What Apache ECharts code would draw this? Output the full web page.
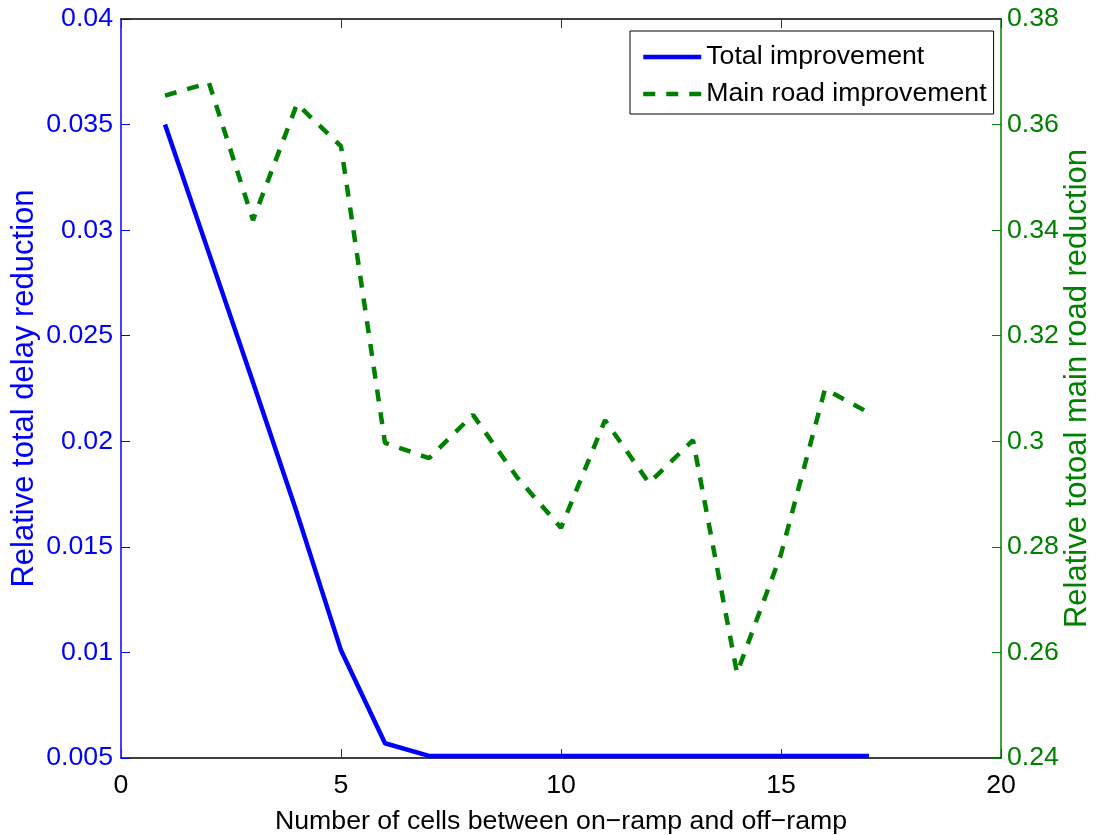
<!DOCTYPE html>
<html>
<head>
<meta charset="utf-8">
<script src="https://cdn.jsdelivr.net/npm/echarts@6/dist/echarts.min.js"></script>
<style>
  html, body { margin: 0; padding: 0; background: #fff; overflow: hidden; }
  #chart { width: 1097px; height: 835px; }
</style>
</head>
<body>
<div id="chart"></div>
<script>
// Number of cells between on-ramp and off-ramp
const cells = [1, 2, 3, 4, 5, 6, 7, 8, 9, 10, 11, 12, 13, 14, 15, 16, 17];
// Relative total delay reduction (left axis)
const totalImprovement = [0.0350, 0.0289, 0.0228, 0.0166, 0.0101, 0.0057, 0.0051, 0.0051, 0.0051,
  0.0051, 0.0051, 0.0051, 0.0051, 0.0051, 0.0051, 0.0051, 0.0051];
// Relative total main road reduction (right axis)
const mainRoadImprovement = [0.3655, 0.3679, 0.3419, 0.3639, 0.3559, 0.2997, 0.2968, 0.3050, 0.2932,
  0.2836, 0.3040, 0.2921, 0.3002, 0.2561, 0.2786, 0.3099, 0.3054];

const seriesNames = ['Total improvement', 'Main road improvement'];
const xTitle = 'Number of cells between on\u2212ramp and off\u2212ramp';
const leftTitle = 'Relative total delay reduction';
const rightTitle = 'Relative totoal main road reduction';

const BLUE = '#0000ff';
const GREEN = '#008000';
const FONT = '"Liberation Sans", Arial, sans-serif';
const FS = 26.7;      // tick labels, legend, x title
const FS_Y = 31;      // rotated axis titles
const LINE_W = 4.5;

const chart = echarts.init(document.getElementById('chart'), null, { renderer: 'canvas' });

const tickStyle = (color) => ({ show: true, inside: true, length: 9, lineStyle: { color: color, width: 1 } });

chart.setOption({
  backgroundColor: '#ffffff',
  animation: false,
  textStyle: { fontFamily: FONT },
  grid: { left: 121, right: 96, top: 19, bottom: 77, containLabel: false, outerBoundsMode: 'none' },
  legend: {
    left: 630,
    top: 31,
    orient: 'vertical',
    itemWidth: 58,
    itemHeight: 14,
    itemGap: 9,
    padding: [12, 7, 6, 11],
    borderColor: '#000',
    borderWidth: 1,
    backgroundColor: '#fff',
    itemStyle: { opacity: 0 },
    lineStyle: { width: LINE_W },
    textStyle: { fontFamily: FONT, fontSize: FS, color: '#000', lineHeight: 28 },
    data: seriesNames
  },
  xAxis: [
    {
      type: 'value',
      min: 0, max: 20, interval: 5,
      position: 'bottom',
      name: xTitle,
      nameLocation: 'middle',
      nameGap: 50,
      nameMoveOverlap: false,
      nameTextStyle: { fontFamily: FONT, fontSize: FS, color: '#000' },
      axisLine: { show: true, onZero: false, lineStyle: { color: '#000', width: 1.5 } },
      axisTick: tickStyle('#333'),
      axisLabel: { fontFamily: FONT, fontSize: FS, color: '#000', margin: 14 },
      splitLine: { show: false }
    },
    {
      type: 'value',
      min: 0, max: 20, interval: 5,
      position: 'top',
      axisLine: { show: true, onZero: false, lineStyle: { color: '#000', width: 1.5 } },
      axisTick: tickStyle('#333'),
      axisLabel: { show: false },
      splitLine: { show: false }
    }
  ],
  yAxis: [
    {
      type: 'value',
      min: 0.005, max: 0.04, interval: 0.005,
      position: 'left',
      name: leftTitle,
      nameLocation: 'middle',
      nameGap: 81,
      nameMoveOverlap: false,
      nameTextStyle: { fontFamily: FONT, fontSize: FS_Y, color: BLUE },
      axisLine: { show: true, onZero: false, lineStyle: { color: BLUE, width: 1.5 } },
      axisTick: tickStyle(BLUE),
      axisLabel: {
        fontFamily: FONT, fontSize: FS, color: BLUE, margin: 8, padding: [5, 0, 0, 0],
        formatter: (v) => String(Math.round(v * 1000) / 1000)
      },
      splitLine: { show: false }
    },
    {
      type: 'value',
      min: 0.24, max: 0.38, interval: 0.02,
      position: 'right',
      name: rightTitle,
      nameLocation: 'middle',
      nameGap: 61,
      nameMoveOverlap: false,
      nameTextStyle: { fontFamily: FONT, fontSize: FS_Y, color: GREEN },
      axisLine: { show: true, onZero: false, lineStyle: { color: GREEN, width: 1.5 } },
      axisTick: tickStyle(GREEN),
      axisLabel: {
        fontFamily: FONT, fontSize: FS, color: GREEN, margin: 6, padding: [5, 0, 0, 0],
        formatter: (v) => String(Math.round(v * 100) / 100)
      },
      splitLine: { show: false }
    }
  ],
  series: [
    {
      name: seriesNames[0],
      type: 'line',
      xAxisIndex: 0,
      yAxisIndex: 0,
      symbol: 'none',
      color: BLUE,
      lineStyle: { color: BLUE, width: LINE_W, type: 'solid' },
      data: cells.map((c, i) => [c, totalImprovement[i]])
    },
    {
      name: seriesNames[1],
      type: 'line',
      xAxisIndex: 0,
      yAxisIndex: 1,
      symbol: 'none',
      color: GREEN,
      lineStyle: { color: GREEN, width: LINE_W, type: [12, 11] },
      data: cells.map((c, i) => [c, mainRoadImprovement[i]])
    }
  ]
});
</script>
</body>
</html>
